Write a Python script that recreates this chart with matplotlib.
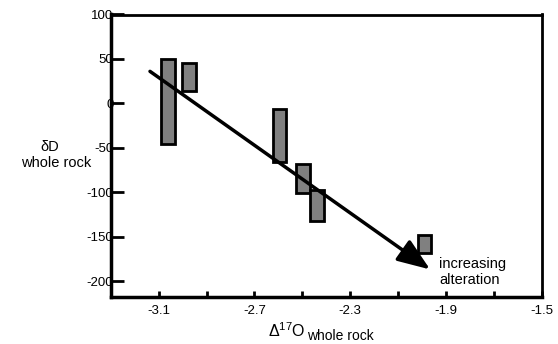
import matplotlib.pyplot as plt
from matplotlib.patches import Rectangle

plt.rcParams['font.family'] = ['Liberation Sans', 'DejaVu Sans']
plt.rcParams['mathtext.fontset'] = 'custom'
plt.rcParams['mathtext.rm'] = 'Liberation Sans'

# boxes: x range (delta17O) and y range (dD)
box_x0 = [-3.090, -3.004, -2.622, -2.525, -2.467, -2.018]
box_x1 = [-3.032, -2.942, -2.567, -2.467, -2.410, -1.962]
box_y0 = [-46, 14, -66, -101, -132, -168]
box_y1 = [50, 45, -6, -68, -98, -148]

arrow_start = (-3.136, 36)
arrow_end = (-1.967, -187)

xticks = [-3.1, -2.9, -2.7, -2.5, -2.3, -2.1, -1.9, -1.7, -1.5]
xticklabels = ['-3.1', '', '-2.7', '', '-2.3', '', '-1.9', '', '-1.5']
yticks = [100, 50, 0, -50, -100, -150, -200]

fig = plt.figure(figsize=(5.58, 3.44), dpi=100)
ax = fig.add_axes([110.7 / 558, 1 - 297 / 344, (542 - 110.7) / 558, (297 - 14.5) / 344])
ax.set_xlim(-3.3, -1.5)
ax.set_ylim(-218, 100)

for x0, x1, y0, y1 in zip(box_x0, box_x1, box_y0, box_y1):
    ax.add_patch(Rectangle((x0, y0), x1 - x0, y1 - y0, facecolor='#808080',
                           edgecolor='black', linewidth=2, zorder=2))

ax.annotate('', xy=arrow_end, xytext=arrow_start,
            arrowprops=dict(arrowstyle='-|>,head_length=1.0,head_width=0.38',
                            color='black', lw=2.5, mutation_scale=20,
                            shrinkA=0, shrinkB=0), zorder=3)

ax.text(-1.928, -190, 'increasing\nalteration', fontsize=10.5, ha='left',
        va='center', linespacing=1.15)

ax.set_xticks(xticks)
ax.set_xticklabels(xticklabels, fontsize=9.5)
ax.set_yticks(yticks)
ax.set_yticklabels([str(v) for v in yticks], fontsize=9.5)
ax.tick_params(axis='x', direction='in', length=4, width=2, pad=6)
ax.tick_params(axis='y', direction='in', length=9, width=2, pad=-2)

for s in ['left', 'bottom']:
    ax.spines[s].set_linewidth(2.5)
for s in ['top', 'right']:
    ax.spines[s].set_linewidth(2)

# y axis label
fig.text(50 / 558, 1 - 147 / 344, 'δD', fontsize=10.5, ha='center', va='center')
fig.text(56 / 558, 1 - 163 / 344, 'whole rock', fontsize=10.5, ha='center', va='center')

# x axis label, second part placed right after the first
t1 = fig.text(268 / 558, 1 - 337 / 344, r'Δ$^{17}$O', fontsize=11.5, ha='left', va='baseline')
fig.canvas.draw()
bb = t1.get_window_extent()
fig.text((bb.x1 + 2) / 558, 1 - 340 / 344, 'whole rock', fontsize=10, ha='left', va='baseline')

fig.savefig('out.png', dpi=100)
